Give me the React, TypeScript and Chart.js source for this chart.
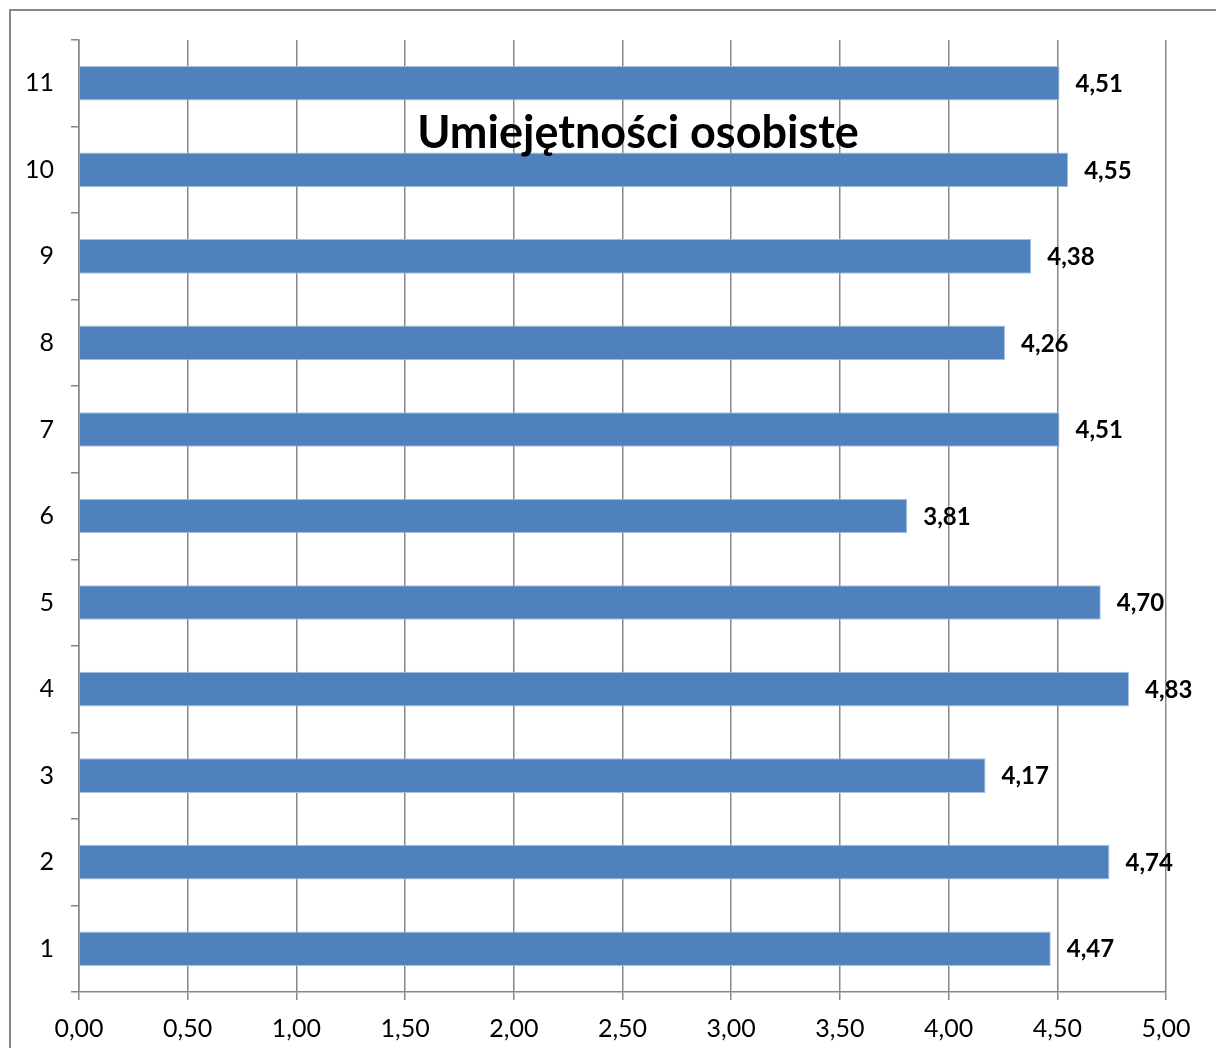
import React, { useEffect, useRef } from "react";
import { Chart, registerables } from "chart.js";

Chart.register(...registerables);

const categories = ["1", "2", "3", "4", "5", "6", "7", "8", "9", "10", "11"];
const values = [4.47, 4.74, 4.17, 4.83, 4.7, 3.81, 4.51, 4.26, 4.38, 4.55, 4.51];
const titleText = "Umiejętności osobiste";
const FONT = "Lato, 'Open Sans', sans-serif";
const fmt = (v: number) => v.toFixed(2).replace(".", ",");

const framePlugin = {
  id: "frame",
  beforeDraw(chart: any) {
    const ctx = chart.ctx;
    ctx.save();
    ctx.fillStyle = "#ffffff";
    ctx.fillRect(0, 0, chart.width, chart.height);
    ctx.strokeStyle = "#878787";
    ctx.lineWidth = 2;
    ctx.strokeRect(10, 10, chart.width + 50, chart.height + 50);
    ctx.restore();
  },
};

const labelPlugin = {
  id: "valueLabels",
  afterDatasetsDraw(chart: any) {
    const ctx = chart.ctx;
    const meta = chart.getDatasetMeta(0);
    ctx.save();
    ctx.fillStyle = "#000000";
    ctx.font = `bold 24px ${FONT}`;
    ctx.textAlign = "left";
    ctx.textBaseline = "middle";
    meta.data.forEach((el: any, i: number) => {
      ctx.fillText(fmt(values[i]), el.x + 16, el.y + 1);
    });
    ctx.font = `bold 45px ${FONT}`;
    ctx.textAlign = "center";
    ctx.textBaseline = "alphabetic";
    ctx.fillText(titleText, 638, 148);
    ctx.restore();
  },
};

export default function App() {
  const ref = useRef<HTMLCanvasElement>(null);
  useEffect(() => {
    document.body.style.margin = "0";
    const chart = new Chart(ref.current!, {
      type: "bar",
      data: {
        labels: categories,
        datasets: [
          {
            data: values,
            backgroundColor: "#4F81BD",
            borderColor: "#A9C1DF",
            borderWidth: 1,
            barPercentage: 0.4,
            categoryPercentage: 1,
          },
        ],
      },
      options: {
        indexAxis: "y",
        animation: false,
        responsive: false,
        devicePixelRatio: 1,
        layout: { padding: { left: 0, top: 40, right: 50, bottom: 0 } },
        plugins: { legend: { display: false }, tooltip: { enabled: false }, title: { display: false } },
        scales: {
          x: {
            min: 0,
            max: 5,
            ticks: {
              stepSize: 0.5,
              callback: (v: any) => fmt(Number(v)),
              color: "#000000",
              font: { family: FONT, size: 25 },
              padding: 14,
              maxRotation: 0,
            },
            grid: { color: "#878787", lineWidth: 1.5, tickLength: 8, drawTicks: true },
            border: { color: "#878787", width: 1.5 },
            afterFit: (s: any) => {
              s.height = 56;
            },
          },
          y: {
            reverse: true,
            ticks: {
              color: "#000000",
              font: { family: FONT, size: 25 },
              padding: 17,
            },
            grid: { color: "#878787", lineWidth: 1.5, drawOnChartArea: false, tickLength: 8, offset: true },
            border: { color: "#878787", width: 1.5 },
            afterFit: (s: any) => {
              s.width = 79;
            },
          },
        },
      },
      plugins: [framePlugin, labelPlugin],
    });
    return () => chart.destroy();
  }, []);
  return (
    <div style={{ position: "absolute", left: 0, top: 0, width: 1216, height: 1048 }}>
      <canvas ref={ref} width={1216} height={1048} style={{ width: 1216, height: 1048, display: "block" }} />
    </div>
  );
}
